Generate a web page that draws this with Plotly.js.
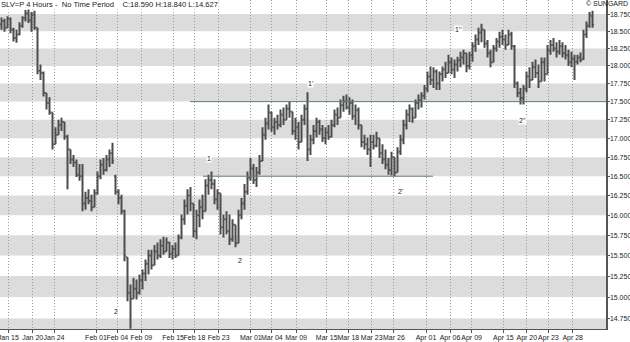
<!DOCTYPE html>
<html><head><meta charset="utf-8">
<script src="https://cdn.plot.ly/plotly-3.0.1.min.js"></script>
<style>html,body{margin:0;padding:0;background:#fff}#chart{width:630px;height:342px}</style>
</head><body><div id="chart"></div>
<script>
// ---- data (SLV=P, 4-hour bars, Jan 15 - Apr 28) ----
const openP = [18.60,18.65,18.55,18.68,18.52,18.40,18.45,18.58,18.69,18.76,18.66,18.74,18.55,17.93,17.90,17.62,17.48,17.35,16.92,17.05,
17.18,17.22,17.02,16.85,16.72,16.68,16.52,16.50,16.15,16.22,16.18,16.10,16.28,16.50,16.65,16.58,16.72,16.80,16.50,16.30,
16.22,16.05,15.48,15.05,14.98,15.10,15.05,15.20,15.28,15.40,15.50,15.38,15.55,15.50,15.62,15.55,15.66,15.52,15.58,15.50,
15.72,15.95,16.12,16.25,16.15,15.80,16.00,16.10,16.05,16.38,16.45,16.40,16.20,16.28,15.85,15.95,15.80,15.70,15.88,15.65,
16.00,16.15,16.30,16.48,16.60,16.45,16.55,16.70,17.05,17.20,17.35,17.15,17.22,17.18,17.32,17.25,17.40,17.36,17.10,17.15,
16.95,17.25,17.40,16.85,16.98,17.10,17.22,17.12,17.00,17.08,17.02,17.18,17.32,17.28,17.45,17.50,17.42,17.48,17.30,17.38,
17.18,16.95,16.92,16.85,16.95,16.90,17.00,16.80,16.72,16.65,16.58,16.75,16.55,16.82,16.98,17.18,17.32,17.40,17.28,17.48,
17.52,17.58,17.68,17.85,17.80,17.92,17.75,17.88,17.95,17.90,18.05,17.95,18.02,18.08,18.12,18.18,18.00,18.15,18.28,18.38,
18.48,18.52,18.32,18.18,18.05,18.25,18.35,18.42,18.38,18.30,18.45,18.28,17.75,17.62,17.55,17.68,17.85,17.80,17.98,17.90,
17.78,18.05,17.88,18.22,18.30,18.25,18.20,18.28,18.18,18.15,18.05,18.10,18.06,18.12,18.10,18.45,18.58,18.72];
const highP = [18.70,18.68,18.72,18.70,18.55,18.52,18.63,18.72,18.81,18.84,18.78,18.80,18.55,18.02,17.92,17.62,17.56,17.35,17.15,17.25,
17.28,17.22,17.05,16.85,16.78,16.72,16.66,16.66,16.30,16.33,16.26,16.33,16.56,16.72,16.74,16.78,16.85,16.94,16.52,16.33,
16.26,16.07,15.48,15.15,15.23,15.21,15.27,15.33,15.45,15.57,15.57,15.63,15.66,15.70,15.73,15.72,15.67,15.63,15.66,15.76,
16.01,16.20,16.33,16.36,16.15,16.07,16.20,16.26,16.46,16.52,16.56,16.46,16.33,16.28,16.01,16.05,16.01,15.95,15.88,16.07,
16.22,16.40,16.56,16.74,16.66,16.62,16.78,17.15,17.28,17.46,17.36,17.28,17.32,17.39,17.42,17.46,17.50,17.36,17.28,17.22,
17.32,17.46,17.63,17.05,17.18,17.28,17.25,17.18,17.15,17.18,17.25,17.39,17.42,17.53,17.58,17.60,17.56,17.53,17.46,17.42,
17.18,17.05,17.01,17.05,17.05,17.09,17.00,16.92,16.85,16.74,16.82,16.75,16.88,17.05,17.25,17.39,17.46,17.42,17.53,17.60,
17.63,17.73,17.92,17.99,17.98,17.95,17.92,17.99,18.06,18.16,18.12,18.09,18.13,18.20,18.23,18.18,18.20,18.34,18.45,18.55,
18.61,18.52,18.37,18.23,18.30,18.40,18.49,18.52,18.45,18.52,18.49,18.30,17.78,17.69,17.73,17.92,17.98,18.06,18.09,18.02,
18.12,18.12,18.30,18.37,18.40,18.34,18.37,18.34,18.30,18.23,18.20,18.16,18.16,18.19,18.52,18.64,18.78,18.80];
const lowP = [18.52,18.49,18.55,18.47,18.35,18.33,18.44,18.55,18.64,18.62,18.49,18.52,17.88,17.80,17.57,17.39,17.32,16.85,16.92,17.05,
17.10,16.98,16.33,16.66,16.62,16.49,16.44,16.05,16.07,16.14,16.05,16.10,16.26,16.46,16.52,16.56,16.62,16.66,16.26,16.14,
16.01,15.43,14.95,14.63,14.98,14.97,15.03,15.09,15.19,15.27,15.33,15.38,15.45,15.47,15.51,15.55,15.47,15.45,15.47,15.50,
15.70,15.88,16.01,16.05,15.72,15.70,15.85,15.95,16.05,16.26,16.33,16.14,16.07,15.76,15.72,15.76,15.63,15.67,15.60,15.65,
15.95,16.07,16.26,16.44,16.40,16.36,16.52,16.70,16.98,17.12,17.09,17.05,17.12,17.15,17.18,17.25,17.28,17.05,16.98,16.85,
16.95,17.18,16.70,16.78,16.92,17.01,17.05,16.95,16.92,16.98,17.01,17.15,17.18,17.28,17.36,17.39,17.32,17.25,17.18,17.12,
16.88,16.85,16.78,16.62,16.85,16.88,16.74,16.66,16.59,16.52,16.51,16.50,16.55,16.78,16.92,17.12,17.22,17.21,17.28,17.39,
17.42,17.53,17.63,17.73,17.69,17.66,17.66,17.78,17.83,17.90,17.88,17.83,17.92,17.98,18.02,17.91,17.95,18.06,18.20,18.30,
18.34,18.26,18.12,17.98,18.05,18.20,18.26,18.30,18.23,18.30,18.23,17.69,17.56,17.46,17.46,17.63,17.69,17.80,17.83,17.69,
17.78,17.78,17.88,18.16,18.20,18.12,18.16,18.12,18.09,18.00,17.98,17.80,18.02,18.05,18.08,18.40,18.55,18.55];
const closeP = [18.65,18.55,18.68,18.52,18.40,18.45,18.58,18.69,18.76,18.66,18.74,18.55,17.93,17.90,17.62,17.48,17.35,16.92,17.05,17.18,
17.22,17.02,16.85,16.72,16.68,16.52,16.50,16.15,16.22,16.18,16.10,16.28,16.50,16.65,16.58,16.72,16.80,16.70,16.30,16.22,
16.05,15.50,15.05,14.98,15.10,15.05,15.20,15.28,15.40,15.50,15.38,15.55,15.50,15.62,15.55,15.66,15.52,15.58,15.50,15.72,
15.95,16.12,16.25,16.15,15.80,16.00,16.10,16.05,16.38,16.45,16.40,16.20,16.28,15.85,15.95,15.80,15.70,15.88,15.65,16.00,
16.15,16.30,16.48,16.60,16.45,16.55,16.70,17.05,17.20,17.35,17.15,17.22,17.18,17.32,17.25,17.40,17.36,17.10,17.15,16.95,
17.25,17.40,16.85,16.98,17.10,17.22,17.12,17.00,17.08,17.02,17.18,17.32,17.28,17.45,17.50,17.42,17.48,17.30,17.38,17.18,
16.95,16.92,16.85,16.95,16.90,17.00,16.80,16.72,16.65,16.58,16.75,16.55,16.82,16.98,17.18,17.32,17.40,17.28,17.48,17.52,
17.58,17.68,17.85,17.80,17.92,17.75,17.88,17.95,17.90,18.05,17.95,18.02,18.08,18.12,18.18,18.00,18.15,18.28,18.38,18.48,
18.52,18.32,18.18,18.05,18.25,18.35,18.42,18.38,18.30,18.45,18.28,17.75,17.62,17.55,17.68,17.85,17.80,17.98,17.90,17.78,
18.05,17.88,18.22,18.30,18.25,18.20,18.28,18.18,18.15,18.05,18.10,18.06,18.12,18.08,18.45,18.58,18.74,18.59];
const barNo = openP.map((_, i) => i);

// date labels and the bar number at which each date starts
const tickLabels = ['Jan 15','Jan 20','Jan 24','Feb 01','Feb 04','Feb 09','Feb 15','Feb 18','Feb 23','Mar 01','Mar 04','Mar 09',
  'Mar 15','Mar 18','Mar 23','Mar 26','Apr 01','Apr 06','Apr 09','Apr 15','Apr 20','Apr 23','Apr 28'];
const tickBars = [2.27,10.4,17.5,31.5,38.6,46.6,57.2,64.3,72.4,83.1,90.1,98.2,108.4,115.6,123.4,130.8,141.5,149.5,156.7,167.3,175.1,182.3,190.4];

const yTickVals = [14.75,15.00,15.25,15.50,15.75,16.00,16.25,16.50,16.75,17.00,17.25,17.50,17.75,18.00,18.25,18.50,18.75];
const yTickLabels = ['14.750','15.000','15.250','15.500','15.750','16.000','16.250','16.500','16.750','17.000','17.250','17.500','17.750','18.000','18.250','18.500','18.750'];
const bandTops = [18.75,18.25,17.75,17.25,16.75,16.25,15.75,15.25,14.75];
const levelLines = [16.5, 17.5];
const waveLabels = ['2','1','2',"1'","2'","1''","2''"];
const headerText = 'SLV=P 4 Hours -\u00a0 No Time Period\u00a0\u00a0\u00a0 C:18.590 H:18.840 L:14.627';
const creditText = '\u00a9 SUNGARD';

// ---- layout / styling ----
const FONT = '"Liberation Sans", Arial, sans-serif';
const FS = 7;
const PW = 606, PH = 329;
const shapes = bandTops.map(t => ({type:'rect', xref:'paper', yref:'y', x0:0, x1:1, y0:t-0.25, y1:t,
  fillcolor:'#dcdcdc', line:{width:0}, layer:'below'}));
const lineSpans = [[203,433],[190,606]];
levelLines.forEach((v, k) => shapes.push({type:'line', xref:'paper', yref:'y', x0:lineSpans[k][0]/PW, x1:lineSpans[k][1]/PW,
  y0:v, y1:v, line:{color:'#5d7d72', width:1}, layer:'above'}));

const labelPos = [[113,316],[209,158],[240,265],[310,79],[400,191],[463,25],[527,120]];
const annotations = waveLabels.map((t, k) => ({text:t, xref:'paper', yref:'paper', x:labelPos[k][0]/PW, y:1-labelPos[k][1]/PH,
  showarrow:false, bgcolor:'#ffffff', borderpad:0, font:{size:FS, color:'#222'}}));
annotations.push({text:headerText, xref:'paper', yref:'paper', x:0, y:1, xanchor:'left', yanchor:'top', xshift:0, yshift:1,
  showarrow:false, bgcolor:'#ffffff', borderpad:0, font:{size:7.6, color:'#222'}});
annotations.push({text:creditText, xref:'paper', yref:'paper', x:1, y:1, xanchor:'right', yanchor:'top', xshift:23, yshift:1,
  showarrow:false, borderpad:0, font:{size:FS, color:'#222'}});

const trace = {type:'ohlc', x:barNo, open:openP, high:highP, low:lowP, close:closeP,
  increasing:{line:{color:'#4c4c4c', width:2}}, decreasing:{line:{color:'#4c4c4c', width:2}},
  tickwidth:0.45, hoverinfo:'skip'};

const layout = {
  width:630, height:342, margin:{l:0, r:24, t:0, b:13},
  paper_bgcolor:'#ffffff', plot_bgcolor:'#ffffff', showlegend:false,
  font:{family:FONT, size:FS, color:'#222'},
  xaxis:{type:'linear', range:[-0.5, 201.5], tickmode:'array', tickvals:tickBars, ticktext:tickLabels,
    tickangle:0, ticklabeloverflow:'allow',
    showgrid:true, gridcolor:'#9a9a9a', griddash:'1px,2px', gridwidth:1, zeroline:false,
    showline:true, linecolor:'#555', linewidth:1, ticks:'outside', ticklen:3, tickcolor:'#555',
    ticklabelstandoff:-1,
    rangeslider:{visible:false}, fixedrange:true, automargin:false, tickfont:{size:FS, color:'#222'}},
  yaxis:{type:'log', side:'right', range:[Math.log10(14.627), Math.log10(18.96)], tickmode:'array',
    tickvals:yTickVals, ticktext:yTickLabels, showgrid:false, zeroline:false, ticklabeloverflow:'allow',
    showline:true, linecolor:'#555', linewidth:1.5, ticks:'outside', ticklen:2, tickcolor:'#555',
    ticklabelstandoff:-1,
    fixedrange:true, automargin:false, tickfont:{size:FS, color:'#222'}},
  shapes:shapes, annotations:annotations
};
Plotly.newPlot('chart', [trace], layout, {staticPlot:true, displayModeBar:false});
</script></body></html>
